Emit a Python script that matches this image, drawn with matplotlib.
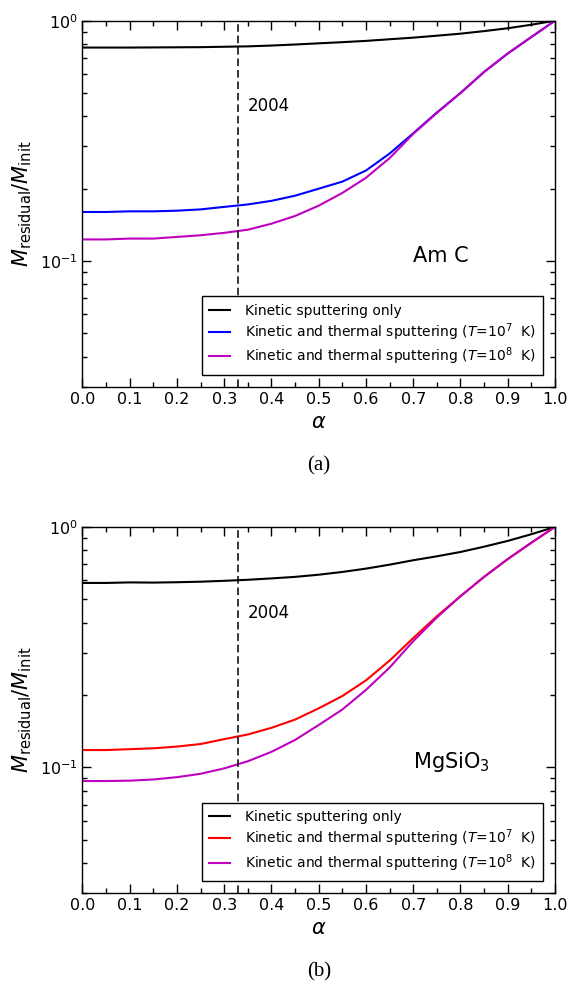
import numpy as np
import matplotlib
matplotlib.use("Agg")
import matplotlib.pyplot as plt
from matplotlib.ticker import MultipleLocator, NullFormatter

alpha = [0.0, 0.05, 0.1, 0.15, 0.2, 0.25, 0.3, 0.35, 0.4, 0.45, 0.5,
         0.55, 0.6, 0.65, 0.7, 0.75, 0.8, 0.85, 0.9, 0.95, 1.0]

# panel (a): Am C
kin_a = [0.773, 0.773, 0.773, 0.774, 0.775, 0.776, 0.779, 0.782, 0.788, 0.796, 0.805,
         0.814, 0.824, 0.837, 0.850, 0.866, 0.883, 0.905, 0.930, 0.962, 1.0]
th7_a = [0.160, 0.160, 0.161, 0.161, 0.162, 0.164, 0.168, 0.172, 0.178, 0.187, 0.200,
         0.214, 0.238, 0.280, 0.340, 0.415, 0.500, 0.612, 0.730, 0.855, 1.0]
th8_a = [0.123, 0.123, 0.124, 0.124, 0.126, 0.128, 0.131, 0.135, 0.143, 0.154, 0.170,
         0.192, 0.222, 0.268, 0.338, 0.413, 0.500, 0.612, 0.730, 0.855, 1.0]

# panel (b): MgSiO3
kin_b = [0.585, 0.585, 0.588, 0.587, 0.589, 0.592, 0.597, 0.603, 0.611, 0.620, 0.633,
         0.650, 0.671, 0.697, 0.727, 0.755, 0.787, 0.828, 0.875, 0.933, 1.0]
th7_b = [0.118, 0.118, 0.119, 0.120, 0.122, 0.125, 0.131, 0.137, 0.146, 0.158, 0.176,
         0.198, 0.230, 0.278, 0.345, 0.425, 0.515, 0.620, 0.735, 0.860, 1.0]
th8_b = [0.0877, 0.0877, 0.088, 0.089, 0.091, 0.094, 0.099, 0.106, 0.116, 0.130, 0.150,
         0.174, 0.210, 0.260, 0.335, 0.420, 0.515, 0.620, 0.735, 0.860, 1.0]

alpha_2004 = 0.33
labels = ["Kinetic sputtering only",
          r"Kinetic and thermal sputtering ($T$=10$^7$  K)",
          r"Kinetic and thermal sputtering ($T$=10$^8$  K)"]

fig = plt.figure(figsize=(5.72, 9.85), dpi=100)


def panel(rect, kin, th7, th8, col7, name, caption):
    ax = fig.add_axes(rect)
    ax.plot(alpha, kin, color="black", lw=1.5, label=labels[0])
    ax.plot(alpha, th7, color=col7, lw=1.5, label=labels[1])
    ax.plot(alpha, th8, color="#c000c0", lw=1.5, label=labels[2])
    ax.axvline(alpha_2004, color="black", lw=1.1, dashes=(5, 2.5))
    ax.set_yscale("log")
    ax.set_xlim(0, 1)
    ax.set_ylim(0.03, 1)
    ax.xaxis.set_major_locator(MultipleLocator(0.1))
    ax.xaxis.set_minor_locator(MultipleLocator(0.05))
    ax.yaxis.set_minor_formatter(NullFormatter())
    ax.tick_params(which="both", direction="in", top=True, right=True, labelsize=11.5)
    ax.tick_params(which="major", length=6.5, width=1)
    ax.tick_params(which="minor", length=3.5, width=1)
    ax.set_xlabel(r"$\alpha$", fontsize=15)
    ax.set_ylabel(r"$M_{\rm residual}/M_{\rm init}$", fontsize=15)
    ax.text(0.35, 0.42, "2004", fontsize=12)
    ax.text(0.70, 0.105, name, fontsize=15, va="center")
    leg = ax.legend(loc="lower right", fontsize=10, fancybox=False, framealpha=1,
                    edgecolor="black", handlelength=1.45, handletextpad=1.1,
                    labelspacing=0.22, borderpad=0.55, borderaxespad=0.85)
    leg.get_frame().set_linewidth(1)
    for s in ax.spines.values():
        s.set_linewidth(1)
    pos = ax.get_position()
    fig.text(pos.x0 + pos.width / 2, pos.y0 - 0.085, caption, ha="center",
             fontsize=15, family="Liberation Serif")
    return ax


panel([0.1442, 0.6074, 0.826, 0.3716], kin_a, th7_a, th8_a, "blue", "Am C", "(a)")
panel([0.1442, 0.0934, 0.826, 0.3716], kin_b, th7_b, th8_b, "red", r"MgSiO$_3$", "(b)")

fig.savefig("out.png", dpi=100)
